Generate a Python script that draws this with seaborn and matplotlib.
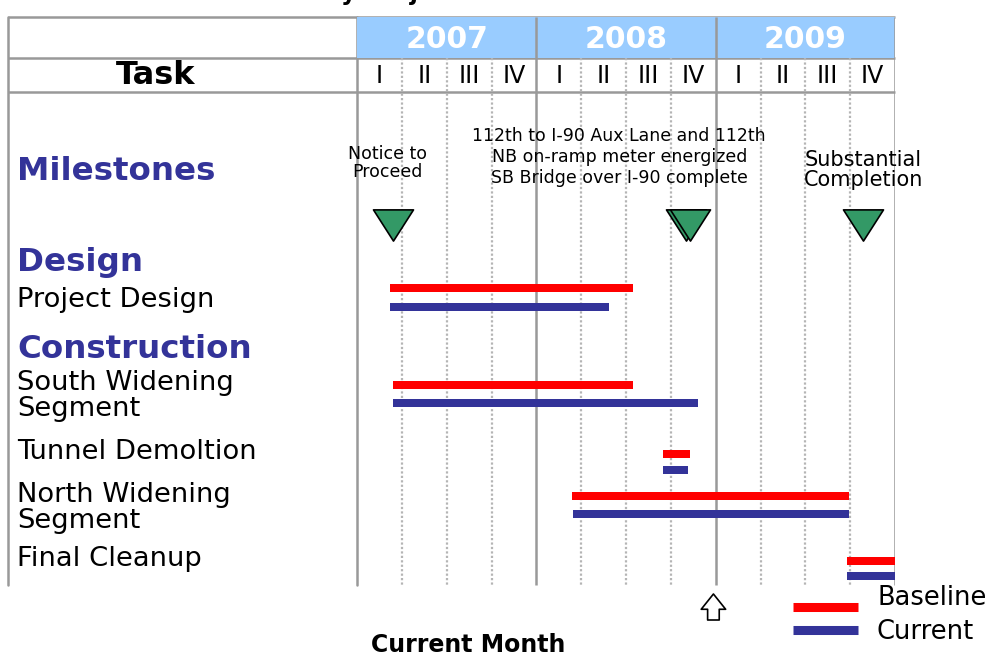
import numpy as np
import pandas as pd
import seaborn as sns
import matplotlib.pyplot as plt
from matplotlib.path import Path

# time axis is in quarters since start of 2007 (0 .. 12)
years = ["2007", "2008", "2009"]
quarters = ["I", "II", "III", "IV"]

tasks = ["Project Design", "South Widening\nSegment", "Tunnel Demoltion",
         "North Widening\nSegment", "Final Cleanup"]
baseline_start = [0.74, 0.80, 6.83, 4.80, 10.93]
baseline_end = [6.16, 6.16, 7.43, 10.97, 12.0]
current_start = [0.74, 0.80, 6.83, 4.82, 10.93]
current_end = [5.62, 7.61, 7.38, 10.97, 12.0]

milestone_q = [0.80, 7.34, 7.43, 11.29]
milestone_text = ["Notice to\nProceed",
                  "112th to I-90 Aux Lane and 112th\nNB on-ramp meter energized\nSB Bridge over I-90 complete",
                  "Substantial\nCompletion"]
current_month_q = 7.95
series = ["Baseline", "Current"]

# layout (pixel rows of the page)
W, H = 992, 657
x0, x1 = 357, 895
row_base_y = [288, 385, 454, 496, 561]
row_cur_y = [307, 403, 470, 514, 576]
label_y = [300, 396, 452, 508, 559]
BLUE = "#333399"
RED = "#ff0000"
GRID = "#999999"

sns.set_theme(style="white")
plt.rcParams['font.family'] = ['DejaVu Sans']
plt.rcParams['text.color'] = 'black'

fig = plt.figure(figsize=(W / 100, H / 100), dpi=100)
bg = fig.add_axes([0, 0, 1, 1])
bg.set_xlim(0, W)
bg.set_ylim(H, 0)
bg.axis('off')

ax = fig.add_axes([x0 / W, 0, (x1 - x0) / W, 1])
ax.set_xlim(0, 12)
ax.set_ylim(H, 0)
ax.axis('off')
ax.patch.set_alpha(0)

# title (cut by the top edge in the original)
bg.text(410, 0, "Summary Project Schedule", ha='center', va='baseline',
        fontsize=17, fontweight='bold')

# table frame
ax.axvspan(0, 12, ymin=1 - 58 / H, ymax=1 - 17 / H, color="#99ccff", lw=0)
for y in [17, 58, 92]:
    bg.plot([8, x1], [y, y], color=GRID, lw=1.8, solid_capstyle='butt')
bg.plot([8, 8], [17, 585], color=GRID, lw=1.8)
bg.plot([x0, x0], [17, 585], color=GRID, lw=1.8)
ax.vlines([4, 8, 12], 17, 585, color=GRID, lw=1.8)
qlines = [q for q in range(1, 12) if q % 4 != 0]
ax.vlines(qlines, 58, 585, color="#b5b5b5", lw=1.6, linestyles=(0, (1, 1)))

# header texts
for i, yr in enumerate(years):
    ax.text(i * 4 + 2, 40, yr, ha='center', va='center', color='white',
            fontsize=21.5, fontweight='bold')
for i in range(12):
    ax.text(i + 0.5, 76, quarters[i % 4], ha='center', va='center', fontsize=17)
bg.text(156, 76, "Task", ha='center', va='center', fontsize=23, fontweight='bold')

# left column labels
for txt, y in [("Milestones", 172), ("Design", 262), ("Construction", 349)]:
    bg.text(17, y, txt, ha='left', va='center', fontsize=23.4,
            fontweight='bold', color=BLUE)
for txt, y in zip(tasks, label_y):
    bg.text(17, y, txt, ha='left', va='center', fontsize=19.7, linespacing=1.02)

# milestone notes
ax.text(milestone_q[0] - 0.13, 163, milestone_text[0], ha='center', va='center',
        fontsize=12.5, linespacing=1.05)
ax.text(5.85, 157, milestone_text[1], ha='center', va='center',
        fontsize=12.5, linespacing=1.2)
ax.text(milestone_q[3], 170, milestone_text[2], ha='center', va='center',
        fontsize=15, linespacing=1.05)

tri = Path([(-1, 0.78), (1, 0.78), (0, -0.78), (-1, 0.78)],
           [Path.MOVETO, Path.LINETO, Path.LINETO, Path.CLOSEPOLY])
ms = pd.DataFrame({"q": milestone_q, "y": [224.5] * len(milestone_q)})
sns.scatterplot(data=ms, x="q", y="y", marker=tri, s=830, color="#339966",
                edgecolor="black", linewidth=1.2, ax=ax, zorder=5)
ax.set_xlim(0, 12)
ax.set_ylim(H, 0)

# schedule bars
bstart = np.array(baseline_start)
cstart = np.array(current_start)
ax.barh(row_base_y, np.array(baseline_end) - bstart, left=bstart, height=8,
        color=RED, lw=0, zorder=4)
ax.barh(row_cur_y, np.array(current_end) - cstart, left=cstart, height=8,
        color=BLUE, lw=0, zorder=4)

# current month marker
ax.annotate("", xy=(current_month_q, 594), xytext=(current_month_q, 620),
            arrowprops=dict(arrowstyle="simple,head_length=0.5,head_width=0.8,tail_width=0.38",
                            fc="white", ec="black", lw=1.2, mutation_scale=22,
                            shrinkA=0, shrinkB=0),
            annotation_clip=False)
bg.text(468, 645, "Current Month", ha='center', va='center',
        fontsize=17, fontweight='bold')

# legend (line key and label are offset vertically in the original)
for name, col, ly, ty in zip(series, [RED, BLUE], [607, 630], [598, 632]):
    bg.plot([793, 858], [ly, ly], color=col, lw=6.5, solid_capstyle='butt')
    bg.text(877, ty, name, ha='left', va='center', fontsize=18.5)

fig.savefig("out.png", dpi=100)
